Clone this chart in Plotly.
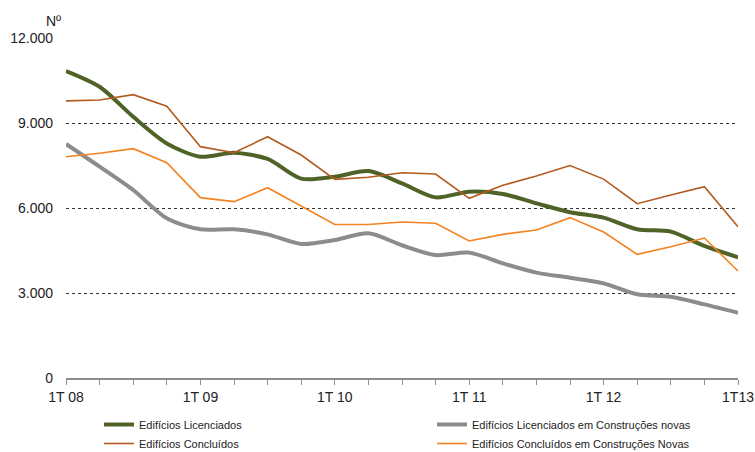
import plotly.graph_objects as go

# Quarterly series, 1T08 .. 1T13 (21 quarters)
quarters = list(range(21))
tick_labels = ["1T 08", "1T 09", "1T 10", "1T 11", "1T 12", "1T13"]

licenciados = [10835, 10280, 9220, 8280, 7810, 7950, 7730, 7035, 7105, 7305, 6870,
               6375, 6575, 6495, 6165, 5850, 5660, 5250, 5165, 4660, 4260]
licenciados_novas = [8260, 7460, 6635, 5635, 5250, 5250, 5070, 4730, 4870, 5105, 4685,
                     4340, 4425, 4045, 3720, 3540, 3340, 2955, 2870, 2600, 2305]
concluidos = [9780, 9810, 10000, 9590, 8165, 7950, 8515, 7870, 7010, 7085, 7245,
              7200, 6340, 6800, 7130, 7500, 7020, 6150, 6460, 6750, 5340]
concluidos_novas = [7810, 7930, 8095, 7600, 6365, 6225, 6715, 6080, 5420, 5420, 5505,
                    5460, 4835, 5070, 5225, 5660, 5150, 4365, 4635, 4940, 3775]

GREEN = "#4F6228"
GRAY = "#8C8C8C"
BROWN = "#B35A1F"
ORANGE = "#F58220"
FONT = "Liberation Sans, Arial, sans-serif"
W, H = 755, 452

fig = go.Figure()
fig.add_trace(go.Scatter(x=quarters, y=licenciados, mode="lines",
                         name="Edifícios Licenciados",
                         line=dict(color=GREEN, width=4, shape="spline", smoothing=0.8),
                         legend="legend"))
fig.add_trace(go.Scatter(x=quarters, y=concluidos, mode="lines",
                         name="Edifícios Concluídos",
                         line=dict(color=BROWN, width=1.6),
                         legend="legend"))
fig.add_trace(go.Scatter(x=quarters, y=licenciados_novas, mode="lines",
                         name="Edifícios Licenciados em Construções novas",
                         line=dict(color=GRAY, width=4, shape="spline", smoothing=0.8),
                         legend="legend2"))
fig.add_trace(go.Scatter(x=quarters, y=concluidos_novas, mode="lines",
                         name="Edifícios Concluídos em Construções Novas",
                         line=dict(color=ORANGE, width=1.6),
                         legend="legend2"))

xtext = []
for q in quarters:
    xtext.append(tick_labels[q // 4] if q % 4 == 0 else "")

# Two legend columns placed in container coordinates so they don't shrink the plot
legend_style = dict(orientation="v", xref="container", yref="container",
                    yanchor="top", y=1 - 410 / H, xanchor="left",
                    font=dict(family=FONT, size=11, color="#222222"),
                    bgcolor="rgba(0,0,0,0)", tracegroupgap=0, itemwidth=30)

fig.update_layout(
    width=W, height=H,
    margin=dict(l=66, r=17, t=38, b=74, autoexpand=False),
    paper_bgcolor="white", plot_bgcolor="white",
    separators=",.",
    font=dict(family=FONT, size=14, color="#222222"),
    showlegend=True,
    legend=dict(x=99 / W, **legend_style),
    legend2=dict(x=432 / W, **legend_style),
    xaxis=dict(range=[0, 20], tickvals=quarters, ticktext=xtext,
               showgrid=False, zeroline=False,
               showline=True, linecolor="#8C8C8C", linewidth=1.5,
               ticks="outside", ticklen=5, tickcolor="#8C8C8C", tickwidth=1,
               tickfont=dict(family=FONT, size=14, color="#222222")),
    yaxis=dict(range=[0, 12000], tickvals=[0, 3000, 6000, 9000, 12000],
               tickformat=",d", showgrid=True, gridcolor="#333333", gridwidth=1,
               griddash="dot", zeroline=False, showline=False, ticks="",
               ticklabelstandoff=12,
               tickfont=dict(family=FONT, size=14, color="#222222")),
    annotations=[dict(text="Nº", xref="paper", yref="paper", x=-0.005, y=1.02,
                      xanchor="right", yanchor="bottom", showarrow=False,
                      font=dict(family=FONT, size=14, color="#222222"))],
)

fig.write_html("out.html")
